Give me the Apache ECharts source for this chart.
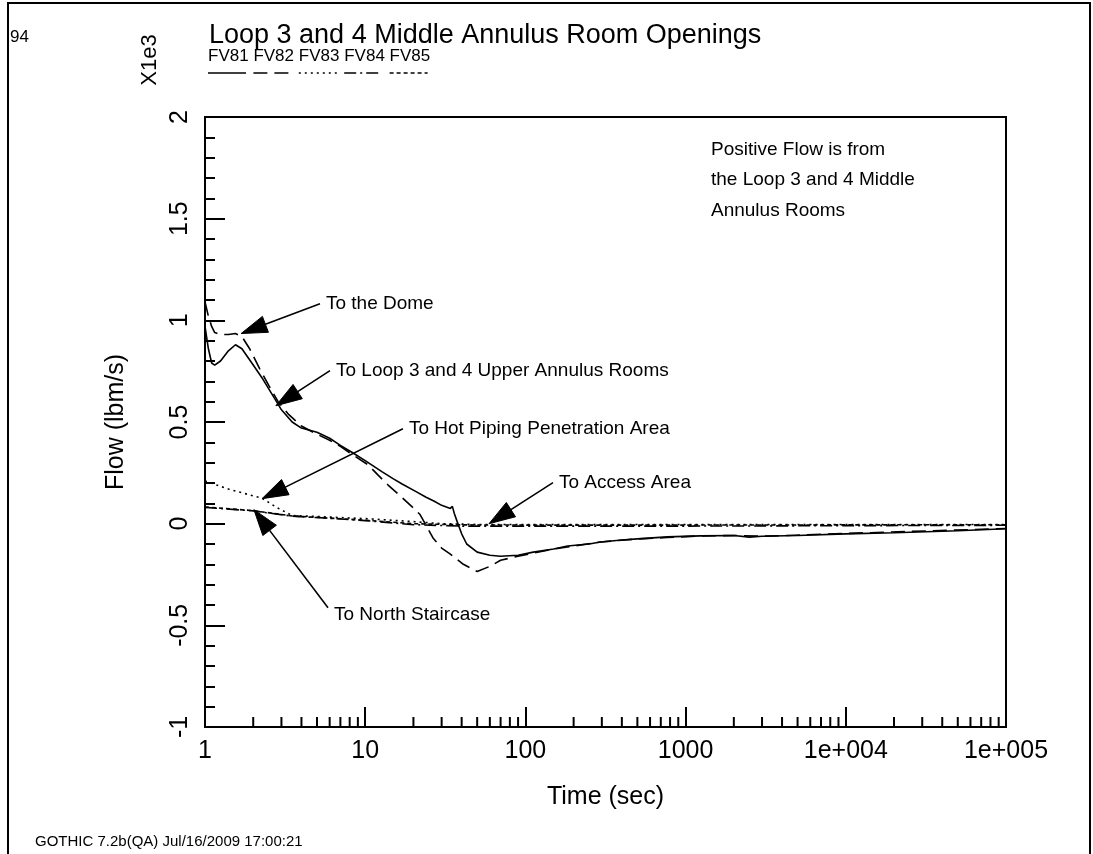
<!DOCTYPE html>
<html>
<head>
<meta charset="utf-8">
<script src="https://cdn.jsdelivr.net/npm/echarts@6/dist/echarts.min.js"></script>
<style>
  html, body { margin: 0; padding: 0; background: #ffffff; }
  #chart { width: 1093px; height: 854px; }
</style>
</head>
<body>
<div id="chart"></div>
<script>
// Flow through the Loop 3 and 4 middle annulus room openings (units of 1e3 lbm/s)
const seriesNames = ['FV81', 'FV82', 'FV83', 'FV84', 'FV85'];

const fv81Time = [1, 1.05, 1.1, 1.15, 1.25, 1.4, 1.55, 1.7, 2.0, 2.3, 2.7, 3.0, 3.5, 4.0, 5.0, 6.0, 7.0, 8.3, 10, 12.7, 15, 17, 20.5, 24, 27, 30, 34, 35, 36, 37.5, 40, 43, 50, 60, 70, 90, 112, 150, 183, 250, 294, 400, 500, 770, 1240, 2000, 2500, 3000, 5000, 10000, 20000, 50000, 100000];
const fv81Flow = [0.97, 0.86, 0.79, 0.78, 0.80, 0.85, 0.88, 0.86, 0.78, 0.71, 0.62, 0.56, 0.50, 0.47, 0.45, 0.42, 0.385, 0.35, 0.31, 0.256, 0.22, 0.195, 0.16, 0.13, 0.11, 0.09, 0.075, 0.085, 0.05, 0.01, -0.05, -0.10, -0.14, -0.155, -0.16, -0.155, -0.14, -0.125, -0.11, -0.10, -0.09, -0.08, -0.075, -0.065, -0.06, -0.058, -0.066, -0.062, -0.058, -0.05, -0.045, -0.035, -0.025];

const fv82Time = [1, 1.05, 1.1, 1.15, 1.25, 1.4, 1.55, 1.7, 1.9, 2.2, 2.5, 2.86, 3.3, 4.0, 5.0, 6.0, 7.0, 8.3, 10.4, 12, 13.9, 16.9, 19.8, 22, 26.5, 30, 34, 41, 50, 60, 70, 90, 112, 150, 183, 294, 500, 770, 1240, 2000, 3000, 10000, 100000];
const fv82Flow = [1.09, 1.02, 0.97, 0.94, 0.93, 0.93, 0.935, 0.92, 0.86, 0.76, 0.68, 0.60, 0.54, 0.48, 0.44, 0.41, 0.38, 0.34, 0.29, 0.24, 0.19, 0.13, 0.08, 0.045, -0.07, -0.12, -0.15, -0.20, -0.235, -0.21, -0.18, -0.16, -0.145, -0.125, -0.115, -0.09, -0.075, -0.068, -0.06, -0.058, -0.062, -0.048, -0.024];

const fv83Time = [1, 1.4, 2.27, 2.8, 3.5, 5, 10, 20, 30, 50, 100, 1000, 10000, 100000];
const fv83Flow = [0.21, 0.17, 0.125, 0.08, 0.04, 0.035, 0.025, 0.01, 0.0, -0.004, -0.004, -0.004, -0.004, -0.004];

const fv84Time = [1, 2, 3.5, 5, 10, 20, 40, 100, 1000, 10000, 100000];
const fv84Flow = [0.08, 0.063, 0.037, 0.03, 0.015, -0.005, -0.012, -0.012, -0.012, -0.01, -0.008];

const fv85Time = [1, 2, 3.5, 5, 10, 20, 40, 100, 1000, 10000, 100000];
const fv85Flow = [0.082, 0.064, 0.038, 0.031, 0.017, 0.0, -0.006, -0.007, -0.007, -0.006, -0.005];

const xTickLabels = ['1', '10', '100', '1000', '1e+004', '1e+005'];
const yTickLabels = ['-1', '-0.5', '0', '0.5', '1', '1.5', '2'];

const annotationText = ['To the Dome', 'To Loop 3 and 4 Upper Annulus Rooms', 'To Hot Piping Penetration Area', 'To Access Area', 'To North Staircase'];
const annotationFrom = [[5.22, 1.082], [6.03, 0.753], [17.2, 0.467], [148.7, 0.2017], [5.86, -0.413]];
const annotationTip = [[1.68, 0.935], [2.77, 0.58], [2.27, 0.123], [59.3, 0.0], [2.02, 0.069]];

const noteLines = ['Positive Flow is from', 'the Loop 3 and 4 Middle', 'Annulus Rooms'];

const FONT = '"Liberation Sans", Arial, Helvetica, sans-serif';
const INK = '#000000';
const dashStyles = ['solid', [14, 7], [2, 4], [12, 4, 2, 4], [4, 3]];

function zip(t, f) { return t.map((x, i) => [x, f[i]]); }
const seriesData = [
  zip(fv81Time, fv81Flow),
  zip(fv82Time, fv82Flow),
  zip(fv83Time, fv83Flow),
  zip(fv84Time, fv84Flow),
  zip(fv85Time, fv85Flow)
];

const chart = echarts.init(document.getElementById('chart'), null, { renderer: 'canvas' });

chart.setOption({
  animation: false,
  backgroundColor: '#ffffff',
  textStyle: { fontFamily: FONT, color: INK },
  grid: {
    left: 205, right: 87, top: 117, bottom: 127,
    show: true, borderColor: INK, borderWidth: 2, backgroundColor: 'transparent'
  },
  xAxis: {
    type: 'log', logBase: 10, min: 1, max: 100000,
    axisLine: { show: true, onZero: false, lineStyle: { color: INK, width: 2 } },
    axisTick: { show: true, inside: true, length: 20, lineStyle: { color: INK, width: 2 } },
    axisLabel: {
      color: INK, fontFamily: FONT, fontSize: 25, margin: 12,
      showMinLabel: true, showMaxLabel: true,
      formatter: v => xTickLabels[Math.round(Math.log10(v))]
    },
    splitLine: { show: false },
    name: 'Time (sec)', nameLocation: 'middle', nameGap: 58,
    nameTextStyle: { color: INK, fontFamily: FONT, fontSize: 25 }
  },
  yAxis: {
    type: 'value', min: -1, max: 2, interval: 0.5,
    axisLine: { show: true, onZero: false, lineStyle: { color: INK, width: 2 } },
    axisTick: { show: true, inside: true, length: 20, lineStyle: { color: INK, width: 2 } },
    minorTick: { show: true, splitNumber: 5, length: 10, lineStyle: { color: INK, width: 2 } },
    axisLabel: {
      color: INK, fontFamily: FONT, fontSize: 25, margin: 12, rotate: 90,
      showMinLabel: true, showMaxLabel: true,
      formatter: v => yTickLabels[Math.round((v + 1) / 0.5)]
    },
    splitLine: { show: false },
    minorSplitLine: { show: false }
  },
  series: seriesData.map((d, i) => ({
    name: seriesNames[i],
    type: 'line',
    data: d,
    showSymbol: false,
    symbol: 'none',
    silent: true,
    lineStyle: { color: INK, width: 1.6, type: dashStyles[i] },
    z: 3 + (4 - i)
  }))
});

// Everything below is placed from the axes' own scales
const px = (x, y) => chart.convertToPixel({ xAxisIndex: 0, yAxisIndex: 0 }, [x, y]);
const graphics = [];

// outer page frame
graphics.push({
  type: 'rect', shape: { x: 8, y: 3, width: 1082, height: 870 },
  style: { fill: 'none', stroke: INK, lineWidth: 2 }, silent: true
});

// page number, title, footer
graphics.push({ type: 'text', x: 10, y: 37, style: { text: '94', fontFamily: FONT, fontSize: 17, fill: INK, align: 'left', verticalAlign: 'middle' } });
graphics.push({ type: 'text', x: 209, y: 36, style: { text: 'Loop 3 and 4 Middle Annulus Room Openings', fontFamily: FONT, fontSize: 27, fill: INK, align: 'left', verticalAlign: 'middle' } });
graphics.push({ type: 'text', x: 35, y: 842, style: { text: 'GOTHIC 7.2b(QA) Jul/16/2009 17:00:21', fontFamily: FONT, fontSize: 15, fill: INK, align: 'left', verticalAlign: 'middle' } });

// rotated y-axis title and multiplier
graphics.push({ type: 'text', x: 116, y: 422, rotation: Math.PI / 2, style: { text: 'Flow (lbm/s)', fontFamily: FONT, fontSize: 25, fill: INK, align: 'center', verticalAlign: 'middle' } });
graphics.push({ type: 'text', x: 150, y: 60, rotation: Math.PI / 2, style: { text: 'X1e3', fontFamily: FONT, fontSize: 22, fill: INK, align: 'center', verticalAlign: 'middle' } });

// legend: names with a line sample underneath each
seriesNames.forEach((n, i) => {
  const x0 = 208 + i * 45.4;
  graphics.push({ type: 'text', x: x0, y: 56, style: { text: n, fontFamily: FONT, fontSize: 17, fill: INK, align: 'left', verticalAlign: 'middle' } });
  graphics.push({
    type: 'line', shape: { x1: x0, y1: 73, x2: x0 + 38, y2: 73 },
    style: { stroke: INK, lineWidth: 1.6, lineDash: dashStyles[i] === 'solid' ? null : dashStyles[i] }, silent: true
  });
});

// note text in the upper right of the plot
noteLines.forEach((t, i) => {
  graphics.push({ type: 'text', x: 711, y: [150, 180, 211][i], style: { text: t, fontFamily: FONT, fontSize: 19, fill: INK, align: 'left', verticalAlign: 'middle' } });
});

// x-axis minor ticks at 2..9 of each decade
const yBottom = chart.convertToPixel({ yAxisIndex: 0 }, -1);
for (let k = 0; k < 5; k++) {
  for (let m = 2; m <= 9; m++) {
    const xp = chart.convertToPixel({ xAxisIndex: 0 }, m * Math.pow(10, k));
    graphics.push({ type: 'line', shape: { x1: xp, y1: yBottom, x2: xp, y2: yBottom - 10 }, style: { stroke: INK, lineWidth: 2 }, silent: true });
  }
}

// annotation arrows with filled heads
const headLen = 26, headWidth = 17;
annotationText.forEach((txt, i) => {
  const s = px(annotationFrom[i][0], annotationFrom[i][1]);
  const p = px(annotationTip[i][0], annotationTip[i][1]);
  const dx = p[0] - s[0], dy = p[1] - s[1];
  const len = Math.hypot(dx, dy);
  const ux = dx / len, uy = dy / len;
  const bx = p[0] - ux * headLen, by = p[1] - uy * headLen;
  const nx = -uy * headWidth / 2, ny = ux * headWidth / 2;
  graphics.push({ type: 'line', shape: { x1: s[0], y1: s[1], x2: bx, y2: by }, style: { stroke: INK, lineWidth: 1.6 }, silent: true, z: 20 });
  graphics.push({ type: 'polygon', shape: { points: [[p[0], p[1]], [bx + nx, by + ny], [bx - nx, by - ny]] }, style: { fill: INK, stroke: INK, lineWidth: 1 }, silent: true, z: 20 });
  const below = s[1] > p[1];
  graphics.push({ type: 'text', x: s[0] + 6, y: s[1] + (below ? 7 : 0), style: { text: txt, fontFamily: FONT, fontSize: 19, fill: INK, align: 'left', verticalAlign: 'middle' }, z: 20 });
});

chart.setOption({ graphic: graphics });
</script>
</body>
</html>
